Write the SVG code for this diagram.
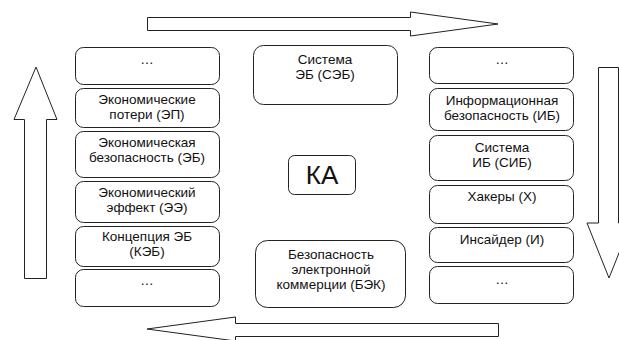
<svg xmlns="http://www.w3.org/2000/svg" width="619" height="340" viewBox="0 0 619 340">
<style>
.box{fill:#fff;stroke:#222;stroke-width:1}
.arr{fill:#fff;stroke:#222;stroke-width:1;stroke-linejoin:miter}
text{font-family:"Liberation Sans",Arial,sans-serif;font-size:13.5px;fill:#111;text-anchor:middle}
.big{font-size:26px}
</style>
<rect width="619" height="340" fill="#fff"/>
<g id="connectors">
<path class="arr" d="M147.5,17.5 H410.5 V12 L498,24 L410.5,36 V30.5 H147.5 Z"/>
<path class="arr" d="M598.5,67.5 H618.5 V223 H631 L609,278 L587,223 H598.5 Z"/>
<path class="arr" d="M498.5,336.5 H235.5 V341 L147,329 L235.5,317 V323.5 H498.5 Z"/>
<path class="arr" d="M24.5,278.5 V119.5 H14 L36,67 L57,119.5 H46.5 V278.5 Z"/>
</g>
<g id="l1"><rect class="box" x="75.5" y="47.5" width="144" height="37" rx="8"/><text x="147" y="64">…</text></g>
<g id="l2"><rect class="box" x="75.5" y="88.5" width="144" height="39" rx="8"/><text x="147" y="104">Экономические</text><text x="147" y="119">потери (ЭП)</text></g>
<g id="l3"><rect class="box" x="75.5" y="131.5" width="144" height="46" rx="8"/><text x="147" y="147">Экономическая</text><text x="147" y="162">безопасность (ЭБ)</text></g>
<g id="l4"><rect class="box" x="75.5" y="181.5" width="144" height="41" rx="8"/><text x="147" y="197">Экономический</text><text x="147" y="212">эффект (ЭЭ)</text></g>
<g id="l5"><rect class="box" x="75.5" y="226.5" width="144" height="40" rx="8"/><text x="147" y="241">Концепция ЭБ</text><text x="147" y="256">(КЭБ)</text></g>
<g id="l6"><rect class="box" x="75.5" y="269.5" width="144" height="37" rx="8"/><text x="147" y="285">…</text></g>
<g id="c1"><rect class="box" x="253.5" y="45.5" width="144" height="59" rx="10"/><text x="325" y="64">Система</text><text x="325" y="79">ЭБ (СЭБ)</text></g>
<g id="ka"><rect class="box" x="288.5" y="155.5" width="67" height="39" rx="6"/><text class="big" x="322" y="184">КА</text></g>
<g id="c2"><rect class="box" x="255.5" y="240.5" width="150" height="67" rx="12"/><text x="331" y="259">Безопасность</text><text x="331" y="274">электронной</text><text x="331" y="289">коммерции (БЭК)</text></g>
<g id="r1"><rect class="box" x="429.5" y="47.5" width="144" height="36" rx="8"/><text x="502" y="64">…</text></g>
<g id="r2"><rect class="box" x="429.5" y="88.5" width="144" height="42" rx="8"/><text x="502" y="105">Информационная</text><text x="502" y="120">безопасность (ИБ)</text></g>
<g id="r3"><rect class="box" x="429.5" y="135.5" width="144" height="45" rx="8"/><text x="502" y="152">Система</text><text x="502" y="167">ИБ (СИБ)</text></g>
<g id="r4"><rect class="box" x="429.5" y="185.5" width="144" height="38" rx="8"/><text x="502" y="201">Хакеры (Х)</text></g>
<g id="r5"><rect class="box" x="429.5" y="227.5" width="144" height="35" rx="8"/><text x="502" y="244">Инсайдер (И)</text></g>
<g id="r6"><rect class="box" x="429.5" y="266.5" width="144" height="37" rx="8"/><text x="502" y="284">…</text></g>
</svg>
